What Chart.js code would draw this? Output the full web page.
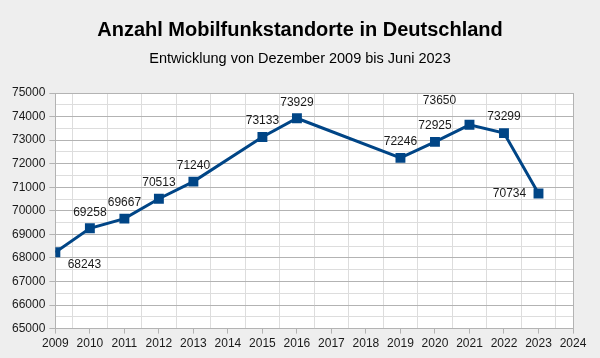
<!DOCTYPE html>
<html>
<head>
<meta charset="utf-8">
<script src="https://cdn.jsdelivr.net/npm/chart.js@4"></script>
<style>
  html, body { margin: 0; padding: 0; background: #eeeeee; }
  canvas { display: block; }
</style>
</head>
<body>
<canvas id="graf" width="600" height="358"></canvas>
<script>
// Daten
const jahre = [2009, 2010, 2011, 2012, 2013, 2015, 2016, 2019, 2020, 2021, 2022, 2023];
const standorte = [68243, 69258, 69667, 70513, 71240, 73133, 73929, 72246, 72925, 73650, 73299, 70734];

const titel = 'Anzahl Mobilfunkstandorte in Deutschland';
const untertitel = 'Entwicklung von Dezember 2009 bis Juni 2023';

// weisser Hintergrund nur im Diagrammbereich
const plotHintergrund = {
  id: 'plotHintergrund',
  beforeDraw(chart) {
    const a = chart.chartArea;
    chart.ctx.save();
    chart.ctx.fillStyle = '#ffffff';
    chart.ctx.fillRect(a.left, a.top, a.right - a.left, a.bottom - a.top);
    chart.ctx.restore();
  }
};

// Titel mittig ueber der ganzen Flaeche
const ueberschrift = {
  id: 'ueberschrift',
  afterDraw(chart) {
    const ctx = chart.ctx;
    ctx.save();
    ctx.fillStyle = '#000000';
    ctx.textAlign = 'center';
    ctx.textBaseline = 'middle';
    ctx.font = 'bold 20px "Liberation Sans", Arial, sans-serif';
    ctx.fillText(titel, chart.width / 2, 30);
    ctx.font = '14.5px "Liberation Sans", Arial, sans-serif';
    ctx.fillText(untertitel, chart.width / 2, 59);
    ctx.restore();
  }
};

// Werte an den Punkten
const wertLabels = {
  id: 'wertLabels',
  afterDatasetsDraw(chart, args, opts) {
    const ctx = chart.ctx;
    const meta = chart.getDatasetMeta(0);
    ctx.save();
    ctx.font = '12px "Liberation Sans", Arial, sans-serif';
    ctx.fillStyle = '#1a1a1a';
    ctx.textAlign = 'center';
    ctx.textBaseline = 'middle';
    meta.data.forEach(function (pt, i) {
      const off = opts.versatz[i] || [0, -16];
      ctx.fillText(String(chart.data.datasets[0].data[i].y), pt.x + off[0], pt.y + off[1]);
    });
    ctx.restore();
  }
};

const punkte = jahre.map((j, i) => ({ x: j, y: standorte[i] }));

const ganz = v => Math.abs(v - Math.round(v)) < 1e-6;

Chart.defaults.font.family = '"Liberation Sans", Arial, sans-serif';
Chart.defaults.color = '#1a1a1a';

new Chart(document.querySelector('#graf').getContext('2d'), {
  type: 'line',
  data: {
    datasets: [{
      data: punkte,
      borderColor: '#004586',
      backgroundColor: '#004586',
      borderWidth: 3,
      tension: 0,
      pointStyle: 'rect',
      pointRadius: 7,
      pointHoverRadius: 7,
      pointBorderWidth: 0
    }]
  },
  options: {
    responsive: false,
    animation: false,
    devicePixelRatio: 1,
    layout: { padding: { left: 8, right: 27, top: 93, bottom: 4 } },
    plugins: {
      legend: { display: false },
      tooltip: { enabled: false },
      title: { display: false },
      wertLabels: {
        versatz: { 0: [29, 12], 9: [-30, -24], 11: [-29, 0] }
      }
    },
    scales: {
      x: {
        type: 'linear',
        min: 2009,
        max: 2024,
        ticks: {
          stepSize: 0.5,
          autoSkip: false,
          maxRotation: 0,
          padding: 3,
          font: { size: 12 },
          callback: v => ganz(v) ? String(v) : ''
        },
        grid: {
          tickLength: 5,
          color: c => (c.tick && c.tick.value === 2024) ? '#b3b3b3' : (c.tick && ganz(c.tick.value) ? 'rgba(0,0,0,0)' : '#dddddd'),
          tickColor: c => (c.tick && ganz(c.tick.value)) ? '#b3b3b3' : 'rgba(0,0,0,0)'
        },
        border: { color: '#b3b3b3' }
      },
      y: {
        min: 65000,
        max: 75000,
        ticks: {
          stepSize: 500,
          autoSkip: false,
          padding: 4,
          font: { size: 12 },
          callback: v => v % 1000 === 0 ? String(v) : ''
        },
        grid: {
          tickLength: 6,
          color: c => (c.tick && c.tick.value % 1000 === 0) ? '#b3b3b3' : '#dddddd',
          tickColor: c => (c.tick && c.tick.value % 1000 === 0) ? '#b3b3b3' : 'rgba(0,0,0,0)'
        },
        border: { color: '#b3b3b3' }
      }
    }
  },
  plugins: [plotHintergrund, wertLabels, ueberschrift]
});
</script>
</body>
</html>
